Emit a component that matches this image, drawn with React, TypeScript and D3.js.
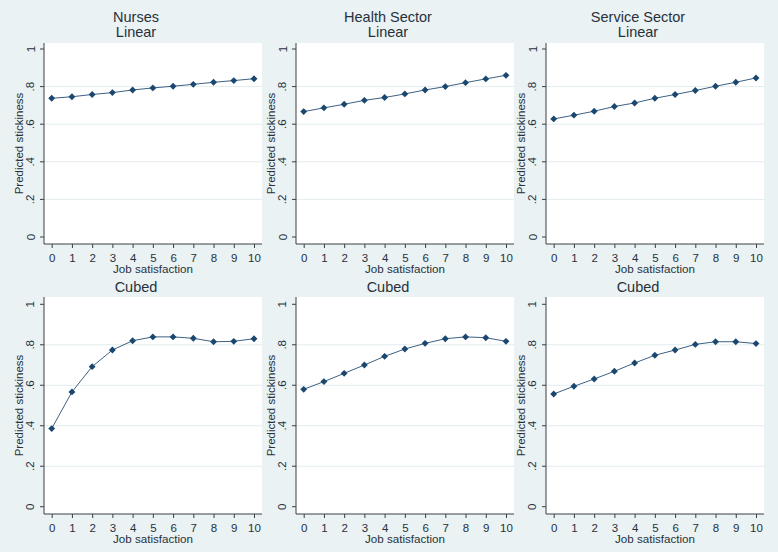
import * as d3 from 'd3';
import { useEffect, useRef } from 'react';

// job satisfaction scores on the x axis
const jobSatisfaction = [0, 1, 2, 3, 4, 5, 6, 7, 8, 9, 10];

const yTicks = [0, 0.2, 0.4, 0.6, 0.8, 1];
const yTickLabels = ['0', '.2', '.4', '.6', '.8', '1'];
const gridTicks = [0.2, 0.4, 0.6, 0.8];

const sectors = ['Nurses', 'Health Sector', 'Service Sector'];
const models = ['Linear', 'Cubed'];

// predicted stickiness
const nursesLinear = [0.738, 0.746, 0.758, 0.768, 0.782, 0.793, 0.802, 0.812, 0.823, 0.832, 0.842];
const healthLinear = [0.667, 0.687, 0.706, 0.727, 0.742, 0.761, 0.782, 0.8, 0.821, 0.841, 0.86];
const serviceLinear = [0.628, 0.648, 0.669, 0.694, 0.713, 0.738, 0.758, 0.779, 0.802, 0.823, 0.846];

const nursesCubed = [0.386, 0.567, 0.692, 0.774, 0.82, 0.839, 0.839, 0.832, 0.815, 0.817, 0.83];
const healthCubed = [0.58, 0.618, 0.659, 0.7, 0.743, 0.779, 0.807, 0.83, 0.839, 0.835, 0.817];
const serviceCubed = [0.557, 0.595, 0.631, 0.669, 0.71, 0.748, 0.774, 0.802, 0.815, 0.815, 0.806];

const seriesGrid = [
  [nursesLinear, healthLinear, serviceLinear],
  [nursesCubed, healthCubed, serviceCubed],
];

const FONT = '"Liberation Sans", Arial, sans-serif';
const BG = '#eaf2f3';
const NAVY = '#1a476f';
const TEXT = '#27313c';

export default function App() {
  const svgRef = useRef<SVGSVGElement | null>(null);

  useEffect(() => {
    if (!svgRef.current) return;
    const width = 778;
    const height = 552;

    const svg = d3.select(svgRef.current);
    svg.selectAll('*').remove();

    svg.append('rect').attr('width', width).attr('height', height).attr('fill', BG);

    const colLeft = [44, 296, 546];
    const plotWidth = 218;
    const rows = [
      { top: 43, bottom: 244, y0: 237, y1: 49 },
      { top: 297, bottom: 514, y0: 506.7, y1: 304.3 },
    ];

    rows.forEach((row, r) => {
      colLeft.forEach((left, c) => {
        const values = seriesGrid[r][c];
        const right = left + plotWidth;

        const x = d3.scaleLinear().domain([0, 10]).range([left + 7.7, left + 210]);
        const y = d3.scaleLinear().domain([0, 1]).range([row.y0, row.y1]);

        const g = svg.append('g');

        g.append('rect')
          .attr('x', left)
          .attr('y', row.top)
          .attr('width', plotWidth)
          .attr('height', row.bottom - row.top)
          .attr('fill', '#ffffff');

        g.selectAll('.grid')
          .data(gridTicks)
          .enter()
          .append('line')
          .attr('x1', left)
          .attr('x2', right)
          .attr('y1', (d) => y(d))
          .attr('y2', (d) => y(d))
          .attr('stroke', '#e3ecee')
          .attr('stroke-width', 1);

        // x axis
        const xAxis = d3
          .axisBottom(x)
          .tickValues(jobSatisfaction)
          .tickFormat(d3.format('d'))
          .tickSize(4)
          .tickSizeOuter(0)
          .tickPadding(6);

        const xg = g
          .append('g')
          .attr('transform', `translate(0,${row.bottom})`)
          .call(xAxis);
        xg.select('.domain').remove();
        xg.selectAll('line').attr('stroke', '#3a3f44');
        xg.selectAll('text')
          .attr('font-size', '11.5px')
          .attr('font-family', FONT)
          .attr('fill', TEXT);

        g.append('line')
          .attr('x1', left)
          .attr('x2', right)
          .attr('y1', row.bottom)
          .attr('y2', row.bottom)
          .attr('stroke', '#3a3f44');

        // y axis
        g.append('line')
          .attr('x1', left)
          .attr('x2', left)
          .attr('y1', row.top)
          .attr('y2', row.bottom)
          .attr('stroke', '#3a3f44');

        g.selectAll('.ytick')
          .data(yTicks)
          .enter()
          .append('line')
          .attr('x1', left - 4)
          .attr('x2', left)
          .attr('y1', (d) => y(d))
          .attr('y2', (d) => y(d))
          .attr('stroke', '#3a3f44');

        g.selectAll('.ylab')
          .data(yTicks)
          .enter()
          .append('text')
          .attr('x', left - 9.5)
          .attr('y', (d) => y(d))
          .attr('transform', (d) => `rotate(-90,${left - 9.5},${y(d)})`)
          .attr('text-anchor', 'middle')
          .attr('font-size', '11.5px')
          .attr('font-family', FONT)
          .attr('fill', TEXT)
          .text((_, i) => yTickLabels[i]);

        const midY = (row.top + row.bottom) / 2;
        g.append('text')
          .attr('x', left - 21.5)
          .attr('y', midY)
          .attr('transform', `rotate(-90,${left - 21.5},${midY})`)
          .attr('text-anchor', 'middle')
          .attr('font-size', '11.5px')
          .attr('font-family', FONT)
          .attr('fill', TEXT)
          .text('Predicted stickiness');

        g.append('text')
          .attr('x', (left + right) / 2)
          .attr('y', row.bottom + 29)
          .attr('text-anchor', 'middle')
          .attr('font-size', '11.6px')
          .attr('font-family', FONT)
          .attr('fill', TEXT)
          .text('Job satisfaction');

        // titles
        const titleX = (left + right) / 2 - 17;
        if (r === 0) {
          g.append('text')
            .attr('x', titleX)
            .attr('y', 22)
            .attr('text-anchor', 'middle')
            .attr('font-size', '14.5px')
            .attr('font-family', FONT)
            .attr('fill', TEXT)
            .text(sectors[c]);
          g.append('text')
            .attr('x', titleX)
            .attr('y', 36.5)
            .attr('text-anchor', 'middle')
            .attr('font-size', '14.5px')
            .attr('font-family', FONT)
            .attr('fill', TEXT)
            .text(models[0]);
        } else {
          g.append('text')
            .attr('x', titleX)
            .attr('y', 292)
            .attr('text-anchor', 'middle')
            .attr('font-size', '14.5px')
            .attr('font-family', FONT)
            .attr('fill', TEXT)
            .text(models[1]);
        }

        // connected line + diamonds
        const line = d3
          .line<number>()
          .x((_, i) => x(jobSatisfaction[i]))
          .y((d) => y(d));

        g.append('path')
          .datum(values)
          .attr('d', line)
          .attr('fill', 'none')
          .attr('stroke', '#3d6184')
          .attr('stroke-width', 1);

        const diamond = d3.symbol().type(d3.symbolDiamond2).size(30);
        g.selectAll('.pt')
          .data(values)
          .enter()
          .append('path')
          .attr('d', diamond)
          .attr('transform', (d, i) => `translate(${x(jobSatisfaction[i])},${y(d)})`)
          .attr('fill', NAVY);
      });
    });
  }, []);

  return (
    <svg
      ref={svgRef}
      width={778}
      height={552}
      style={{ position: 'absolute', left: 0, top: 0, display: 'block' }}
    ></svg>
  );
}
